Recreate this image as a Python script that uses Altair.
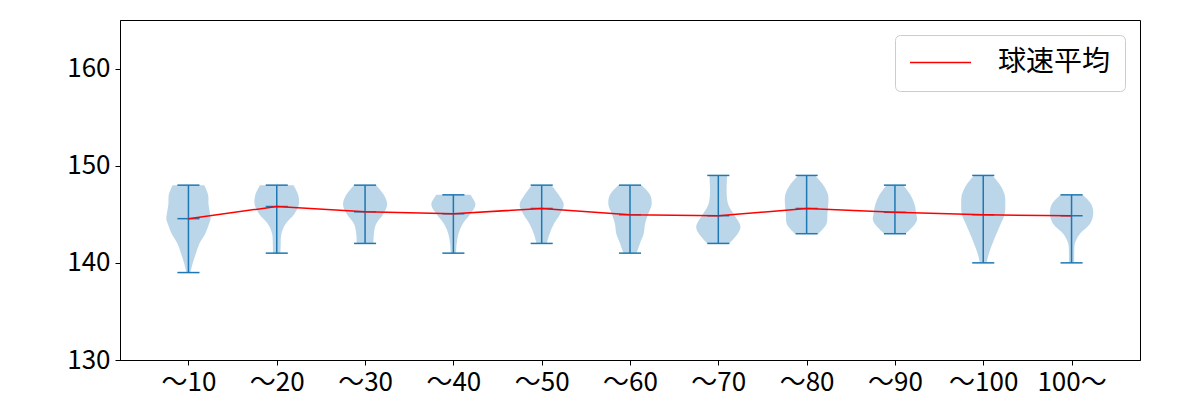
import json
import altair as alt
import pandas as pd

# ---- data ----
categories = ["～10", "～20", "～30", "～40", "～50", "～60", "～70", "～80", "～90", "～100", "100～"]
positions = [1, 2, 3, 4, 5, 6, 7, 8, 9, 10, 11]
means = [144.55, 145.8, 145.25, 145.05, 145.6, 144.95, 144.85, 145.6, 145.2, 144.95, 144.85]
mins = [139, 141, 142, 141, 142, 141, 142, 143, 143, 140, 140]
maxs = [148, 148, 148, 147, 148, 148, 149, 149, 148, 149, 147]
legend_label = "球速平均"

# violin outlines: speed levels and relative half-widths (1 = widest)
profile_speeds = [
    [148, 147, 146, 145, 144.5, 144, 143, 142, 141, 140, 139],
    [148, 147, 146, 145, 144, 143, 142, 141],
    [148, 147, 146, 145, 144, 143, 142],
    [147, 146, 145, 144, 143, 142, 141],
    [148, 147, 146, 145, 144, 143, 142],
    [148, 147, 146, 145, 144, 143, 142, 141],
    [149, 148, 147, 146, 145, 144, 143.6, 143, 142],
    [149, 148, 147, 146, 145, 144, 143],
    [148, 147, 146, 145, 144.5, 144, 143],
    [149, 148, 147, 146, 145, 144, 143, 142, 141, 140],
    [147, 146, 145, 144, 143, 142, 141, 140],
]
profile_widths = [
    [0.72, 0.89, 0.91, 0.98, 1.0, 0.93, 0.76, 0.5, 0.34, 0.2, 0.09],
    [0.76, 0.97, 1.0, 0.79, 0.4, 0.21, 0.18, 0.17],
    [0.5, 0.85, 1.0, 0.82, 0.5, 0.4, 0.38],
    [0.77, 1.0, 0.76, 0.42, 0.23, 0.15, 0.12],
    [0.45, 0.77, 1.0, 0.83, 0.55, 0.36, 0.23],
    [0.53, 0.91, 0.98, 0.82, 0.68, 0.62, 0.45, 0.3],
    [0.4, 0.38, 0.38, 0.45, 0.7, 0.97, 1.0, 0.88, 0.5],
    [0.38, 0.76, 0.97, 0.98, 0.94, 0.9, 0.53],
    [0.38, 0.7, 0.89, 0.97, 1.0, 0.91, 0.48],
    [0.42, 0.77, 0.97, 1.0, 0.97, 0.79, 0.6, 0.42, 0.26, 0.15],
    [0.5, 0.9, 0.98, 0.83, 0.38, 0.15, 0.12, 0.12],
]

rows = []
for pos, sp, wd in zip(positions, profile_speeds, profile_widths):
    for s, w in zip(sp, wd):
        rows.append({"pos": pos, "speed": s, "w": w})
violin_df = pd.DataFrame(rows)

summary_df = pd.DataFrame({
    "pos": positions, "cat": categories, "mean": means,
    "min": mins, "max": maxs, "series": [legend_label] * len(positions),
})

FONT = "Noto Sans CJK JP"
BLUE = "#1f77b4"
FS = 26

xscale = alt.Scale(domain=[0.225, 11.775], nice=False, zero=False)
yscale = alt.Scale(domain=[130, 165], nice=False, zero=False)

label_expr = json.dumps(categories) + "[round(datum.value) - 1]"

xaxis = alt.Axis(values=positions, labelExpr=label_expr, title=None, grid=False,
                 labelOverlap=False, labelFlush=False, tickSize=5, labelPadding=4,
                 labelFontSize=FS, labelFont=FONT, labelColor="black",
                 tickColor="black", domainColor="black")
yaxis = alt.Axis(values=[130, 140, 150, 160], title=None, grid=False,
                 tickSize=5, labelPadding=5, labelFontSize=FS, labelFont=FONT,
                 labelColor="black", tickColor="black", domainColor="black")

violins = alt.Chart(violin_df).transform_calculate(
    left="datum.pos - 0.25 * datum.w", right="datum.pos + 0.25 * datum.w"
).mark_area(orient="horizontal", interpolate="catmull-rom",
            color=BLUE, opacity=0.3).encode(
    y=alt.Y("speed:Q", scale=yscale, axis=yaxis),
    x=alt.X("left:Q", scale=xscale, axis=xaxis),
    x2="right:Q",
    detail="pos:N",
)

base_s = alt.Chart(summary_df).transform_calculate(
    lo="datum.pos - 0.125", hi="datum.pos + 0.125"
)
stems = base_s.mark_rule(color=BLUE, strokeWidth=1.5).encode(
    x=alt.X("pos:Q", scale=xscale), y=alt.Y("min:Q", scale=yscale), y2="max:Q"
)
caps = []
for fld in ["min", "max", "mean"]:
    caps.append(base_s.mark_rule(color=BLUE, strokeWidth=1.5).encode(
        x=alt.X("lo:Q", scale=xscale), x2="hi:Q", y=alt.Y(f"{fld}:Q", scale=yscale)
    ))

mean_line = alt.Chart(summary_df).mark_line(strokeWidth=1.5).encode(
    x=alt.X("pos:Q", scale=xscale),
    y=alt.Y("mean:Q", scale=yscale),
    color=alt.Color("series:N", scale=alt.Scale(domain=[legend_label], range=["red"]),
                    legend=alt.Legend(title=None, orient="top-right", offset=15,
                                      padding=14, fillColor="rgba(255,255,255,0.8)",
                                      strokeColor="#cccccc", cornerRadius=5,
                                      symbolType="stroke", symbolSize=3721,
                                      clipHeight=27,
                                      symbolStrokeWidth=1.5, labelFontSize=28,
                                      labelFont=FONT, labelColor="black",
                                      labelOffset=26)),
)

chart = alt.layer(violins, stems, *caps, mean_line).properties(
    width=1020, height=340,
    autosize=alt.AutoSizeParams(type="none"),
    padding={"left": 120, "top": 20, "right": 60, "bottom": 40},
    background="white",
).configure(font=FONT).configure_view(stroke="black", strokeWidth=1)

chart.save("out.html", embed_options={"renderer": "svg", "actions": False})
